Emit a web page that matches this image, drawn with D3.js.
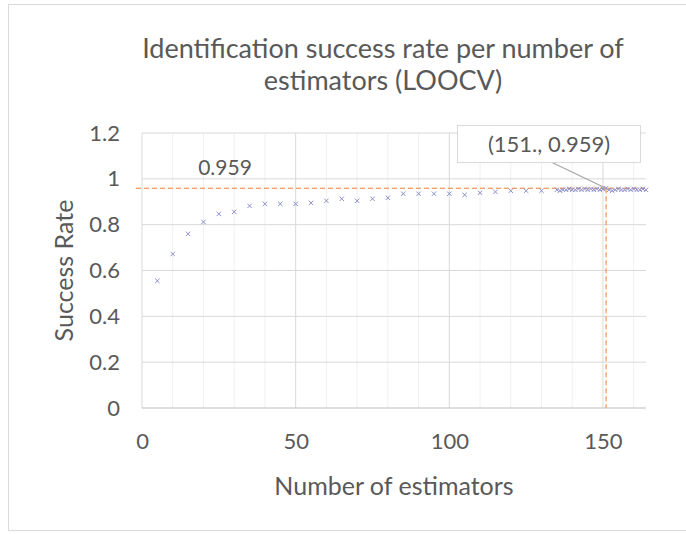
<!DOCTYPE html>
<html>
<head>
<meta charset="utf-8">
<script src="https://cdn.jsdelivr.net/npm/d3@7"></script>
<style>
  body { margin: 0; background: #fff; }
  text { font-family: Lato, "Open Sans", sans-serif; fill: #595959; }
</style>
</head>
<body>
<div id="chart"></div>
<script>
// estimators (x) and LOOCV success rate (y)
var estimators = [5, 10, 15, 20, 25, 30, 35, 40, 45, 50, 55, 60, 65, 70, 75, 80, 85, 90, 95, 100,
  105, 110, 115, 120, 125, 130,
  135, 136, 137, 138, 139, 140, 141, 142, 143, 144, 145, 146, 147, 148, 149, 150,
  151, 152, 153, 154, 155, 156, 157, 158, 159, 160, 161, 162, 163, 164];
var rates = [0.555, 0.672, 0.760, 0.812, 0.847, 0.856, 0.882, 0.891, 0.891, 0.891, 0.895, 0.904, 0.913, 0.904, 0.913, 0.917, 0.935, 0.935, 0.935, 0.935,
  0.930, 0.939, 0.943, 0.948, 0.948, 0.948,
  0.952, 0.948, 0.952, 0.952, 0.956, 0.952, 0.952, 0.956, 0.952, 0.956, 0.952, 0.956, 0.952, 0.956, 0.952, 0.956,
  0.959, 0.952, 0.948, 0.952, 0.956, 0.952, 0.952, 0.956, 0.952, 0.956, 0.952, 0.952, 0.956, 0.952];
var yTicks = [0, 0.2, 0.4, 0.6, 0.8, 1, 1.2];
var xTicks = [0, 50, 100, 150];
var xMinor = [10, 20, 30, 40, 60, 70, 80, 90, 110, 120, 130, 140, 160];
var best = {x: 151, y: 0.959, label: "(151., 0.959)"};
var titleLines = ["Identification success rate per number of", "estimators (LOOCV)"];

var width = 686, height = 534;
var margin = {left: 142, right: 40, top: 133, bottom: 126};

var svg = d3.select("#chart").append("svg")
    .attr("width", width)
    .attr("height", height);

// chart frame
svg.append("rect")
  .attr("x", 8.5).attr("y", 4.5)
  .attr("width", 690).attr("height", 526)
  .attr("fill", "#fff")
  .attr("stroke", "#d9d9d9");

var x = d3.scaleLinear().domain([0, 164]).range([margin.left, width - margin.right]);
var y = d3.scaleLinear().domain([0, 1.2]).range([height - margin.bottom, margin.top]);

// minor vertical gridlines
svg.selectAll(".minor").data(xMinor).enter().append("line")
  .attr("x1", function(d) { return x(d); }).attr("x2", function(d) { return x(d); })
  .attr("y1", y(0)).attr("y2", y(1.2))
  .attr("stroke", "#f0f0f0").attr("stroke-width", 1);

// major vertical gridlines
svg.selectAll(".vmajor").data(xTicks).enter().append("line")
  .attr("x1", function(d) { return x(d); }).attr("x2", function(d) { return x(d); })
  .attr("y1", y(0)).attr("y2", y(1.2))
  .attr("stroke", "#d9d9d9").attr("stroke-width", 1);

// horizontal gridlines
svg.selectAll(".hgrid").data(yTicks).enter().append("line")
  .attr("x1", x(0)).attr("x2", x(164))
  .attr("y1", function(d) { return y(d); }).attr("y2", function(d) { return y(d); })
  .attr("stroke", function(d) { return d === 0 ? "#bfbfbf" : "#d9d9d9"; })
  .attr("stroke-width", 1);

// tick labels via d3 axes
var yAxis = svg.append("g")
  .attr("transform", "translate(" + (x(0) - 19) + ",0)")
  .call(d3.axisLeft(y).tickValues(yTicks).tickSize(0).tickFormat(function(d) { return d3.format("~g")(d); }));
var xAxis = svg.append("g")
  .attr("transform", "translate(0," + (y(0) + 22) + ")")
  .call(d3.axisBottom(x).tickValues(xTicks).tickSize(0));
[yAxis, xAxis].forEach(function(g) {
  g.select(".domain").remove();
  g.selectAll("text").attr("font-size", 22).attr("fill", "#595959")
    .style("font-family", "Lato, 'Open Sans', sans-serif");
});

// reference dashed lines
svg.append("line")
  .attr("x1", x(0) - 6).attr("x2", x(164))
  .attr("y1", y(best.y)).attr("y2", y(best.y))
  .attr("stroke", "#ed7d31").attr("stroke-width", 1).attr("stroke-dasharray", "5,3");
svg.append("line")
  .attr("x1", x(best.x)).attr("x2", x(best.x))
  .attr("y1", y(best.y)).attr("y2", y(0))
  .attr("stroke", "#ed7d31").attr("stroke-width", 1).attr("stroke-dasharray", "5,3");

// x markers
var s = 2.2;
svg.append("g").selectAll("path")
  .data(estimators.map(function(e, i) { return {x: e, y: rates[i]}; }))
  .enter().append("path")
  .attr("d", function(d) {
    var cx = x(d.x), cy = y(d.y);
    return "M" + (cx - s) + "," + (cy - s) + "L" + (cx + s) + "," + (cy + s) +
           "M" + (cx - s) + "," + (cy + s) + "L" + (cx + s) + "," + (cy - s);
  })
  .attr("stroke", "#8c8fcc").attr("stroke-width", 1).attr("fill", "none");

// 0.959 label
svg.append("text")
  .attr("x", 225).attr("y", 175)
  .attr("text-anchor", "middle").attr("font-size", 21).attr("fill", "#404040")
  .text(d3.format(".3f")(best.y));

// callout
svg.append("line")
  .attr("x1", 551).attr("y1", 162)
  .attr("x2", x(best.x)).attr("y2", y(best.y))
  .attr("stroke", "#a6a6a6").attr("stroke-width", 1.3);
svg.append("rect")
  .attr("x", 457.5).attr("y", 125.5).attr("width", 183).attr("height", 37)
  .attr("fill", "#fff").attr("stroke", "#d9d9d9");
svg.append("text")
  .attr("x", 549).attr("y", 152)
  .attr("text-anchor", "middle").attr("font-size", 22).attr("fill", "#404040")
  .text(best.label);

// title
svg.selectAll(".title").data(titleLines).enter().append("text")
  .attr("x", 383).attr("y", function(d, i) { return 58 + i * 32; })
  .attr("text-anchor", "middle").attr("font-size", 27).attr("fill", "#595959")
  .text(function(d) { return d; });

// axis titles
svg.append("text")
  .attr("transform", "translate(73," + y(0.6) + ") rotate(-90)")
  .attr("text-anchor", "middle").attr("font-size", 25).attr("fill", "#595959")
  .text("Success Rate");
svg.append("text")
  .attr("x", 394).attr("y", 495)
  .attr("text-anchor", "middle").attr("font-size", 25).attr("fill", "#595959")
  .text("Number of estimators");
</script>
</body>
</html>
